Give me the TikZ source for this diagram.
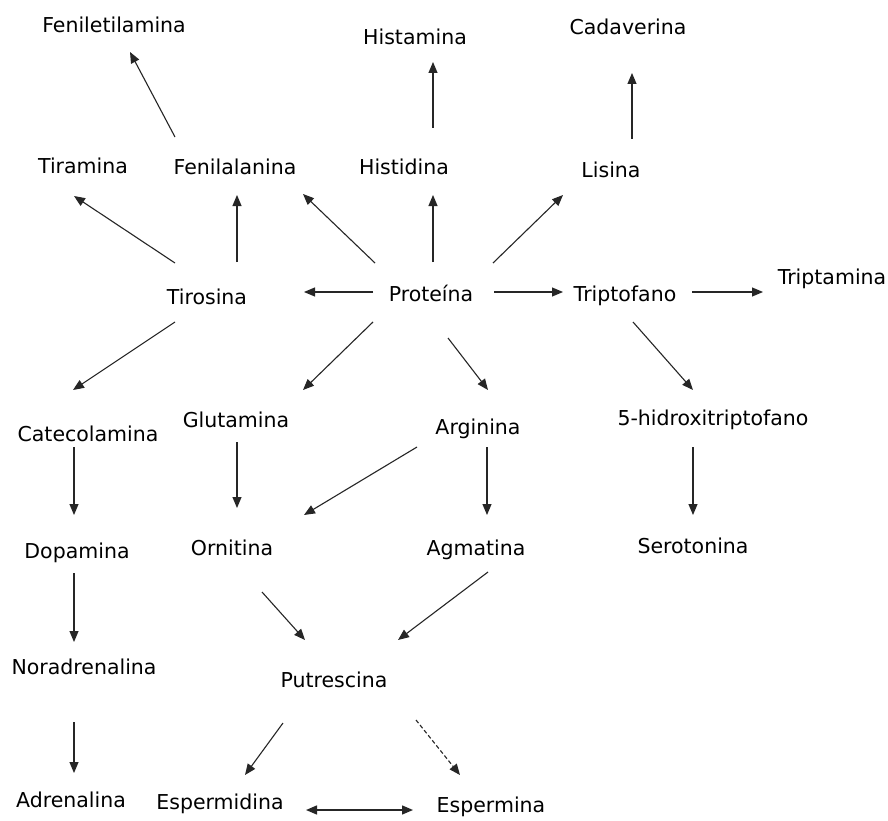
\documentclass[tikz,border=0pt]{standalone}
\usepackage{fontspec}
\setmainfont{DejaVu Sans}
\usetikzlibrary{arrows.meta}
\begin{document}
\begin{tikzpicture}[x=1pt,y=-1pt,
  lbl/.style={inner sep=0pt,text height=15pt,text depth=0pt,font=\fontsize{20.5pt}{24pt}\selectfont,text=black},
  arr/.style={draw=black!85,line width=1.1pt,-{Triangle[length=11pt,width=9pt]}},
  darr/.style={arr,dash pattern=on 4pt off 2.5pt},
  barr/.style={draw=black!85,line width=1.4pt,{Triangle[length=11pt,width=9pt]}-{Triangle[length=11pt,width=9pt]}}]
\useasboundingbox (0,0) rectangle (888,821);
\fill[white] (0,0) rectangle (888,821);
% nodes
\node[lbl] (fenet) at (114,25) {Feniletilamina};
\node[lbl] (hista) at (415,37) {Histamina};
\node[lbl] (cadav) at (628,27) {Cadaverina};
\node[lbl] (tira) at (83,166) {Tiramina};
\node[lbl] (fenil) at (235,167) {Fenilalanina};
\node[lbl] (histi) at (404,167) {Histidina};
\node[lbl] (lisi) at (611,170) {Lisina};
\node[lbl] (tiro) at (207,297) {Tirosina};
\node[lbl] (prot) at (431,294) {Proteína};
\node[lbl] (tript) at (625,294) {Triptofano};
\node[lbl] (triptam) at (832,277) {Triptamina};
\node[lbl] (cate) at (88,434) {Catecolamina};
\node[lbl] (glut) at (236,420) {Glutamina};
\node[lbl] (argi) at (478,427) {Arginina};
\node[lbl] (hidro) at (713,418) {5-hidroxitriptofano};
\node[lbl] (dopa) at (77,551) {Dopamina};
\node[lbl] (orni) at (232,548) {Ornitina};
\node[lbl] (agma) at (476,548) {Agmatina};
\node[lbl] (sero) at (693,546) {Serotonina};
\node[lbl] (nora) at (84,667) {Noradrenalina};
\node[lbl] (putr) at (334,680) {Putrescina};
\node[lbl] (adre) at (71,800) {Adrenalina};
\node[lbl] (esperd) at (220,802) {Espermidina};
\node[lbl] (esperm) at (491,805) {Espermina};
% connectors
\draw[arr] ([shift={(-60,-30)}]fenil.center) -- ([shift={(16,27)}]fenet.center);
\draw[arr] ([shift={(-32,-34)}]tiro.center) -- ([shift={(-9,30)}]tira.center);
\draw[arr] ([shift={(30,-35)}]tiro.center) -- ([shift={(2,28)}]fenil.center);
\draw[arr] ([shift={(-56,-31)}]prot.center) -- ([shift={(68,27)}]fenil.center);
\draw[arr] ([shift={(29,-39)}]histi.center) -- ([shift={(18,25)}]hista.center);
\draw[arr] ([shift={(2,-32)}]prot.center) -- ([shift={(29,28)}]histi.center);
\draw[arr] ([shift={(-58,-2)}]prot.center) -- ([shift={(97,-5)}]tiro.center);
\draw[arr] ([shift={(62,-31)}]prot.center) -- ([shift={(-48,25)}]lisi.center);
\draw[arr] ([shift={(21,-31)}]lisi.center) -- ([shift={(4,46)}]cadav.center);
\draw[arr] ([shift={(63,-2)}]prot.center) -- ([shift={(-62,-2)}]tript.center);
\draw[arr] ([shift={(67,-2)}]tript.center) -- ([shift={(-69,15)}]triptam.center);
\draw[arr] ([shift={(-32,25)}]tiro.center) -- ([shift={(-15,-44)}]cate.center);
\draw[arr] ([shift={(-58,28)}]prot.center) -- ([shift={(67,-30)}]glut.center);
\draw[arr] ([shift={(17,44)}]prot.center) -- ([shift={(10,-37)}]argi.center);
\draw[arr] ([shift={(8,28)}]tript.center) -- ([shift={(-20,-28)}]hidro.center);
\draw[arr] ([shift={(-14,13)}]cate.center) -- ([shift={(-3,-36)}]dopa.center);
\draw[arr] ([shift={(1,22)}]glut.center) -- ([shift={(5,-40)}]orni.center);
\draw[arr] ([shift={(-61,20)}]argi.center) -- ([shift={(72,-33)}]orni.center);
\draw[arr] ([shift={(9,20)}]argi.center) -- ([shift={(11,-33)}]agma.center);
\draw[arr] ([shift={(-20,29)}]hidro.center) -- ([shift={(0,-31)}]sero.center);
\draw[arr] ([shift={(-3,22)}]dopa.center) -- ([shift={(-10,-25)}]nora.center);
\draw[arr] ([shift={(30,44)}]orni.center) -- ([shift={(-29,-40)}]putr.center);
\draw[arr] ([shift={(12,24)}]agma.center) -- ([shift={(64,-40)}]putr.center);
\draw[arr] ([shift={(-10,55)}]nora.center) -- ([shift={(3,-27)}]adre.center);
\draw[arr] ([shift={(-51,43)}]putr.center) -- ([shift={(25,-27)}]esperd.center);
\draw[darr] ([shift={(82,40)}]putr.center) -- ([shift={(-31,-30)}]esperm.center);
\draw[barr] ([shift={(86,8)}]esperd.center) -- ([shift={(-78,5)}]esperm.center);
\end{tikzpicture}
\end{document}
